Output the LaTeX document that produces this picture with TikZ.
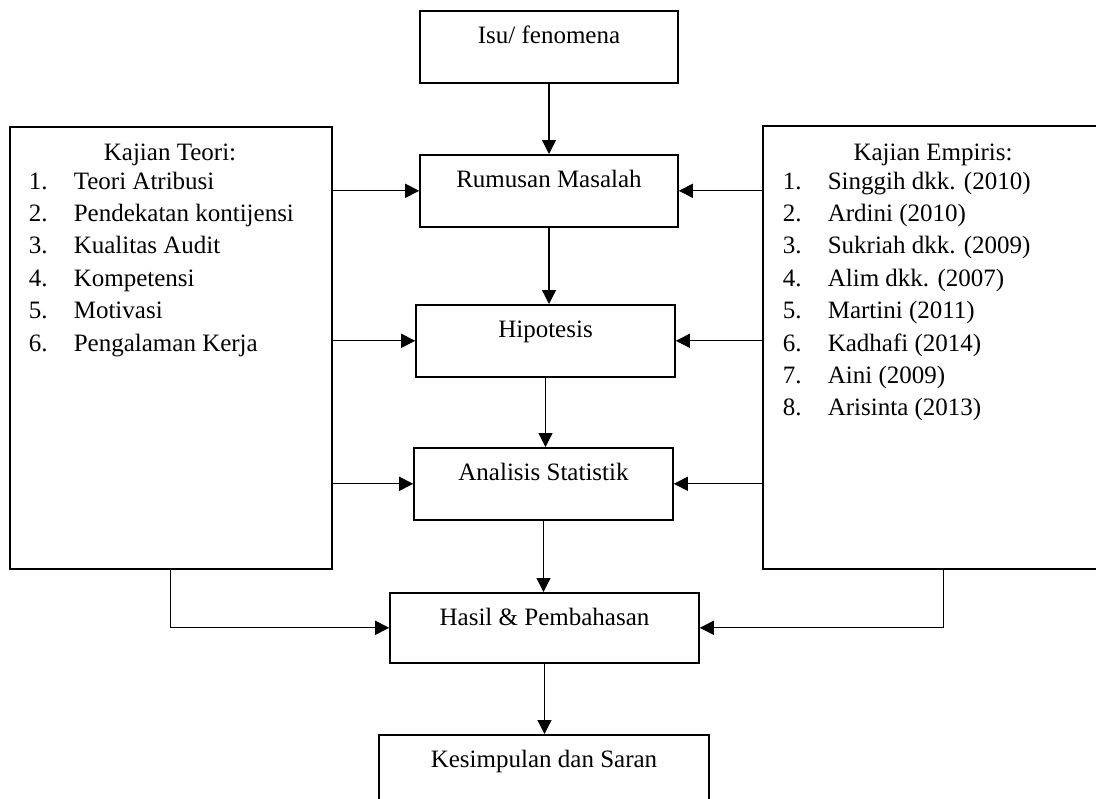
\documentclass[tikz,border=0pt]{standalone}
\usepackage{fontspec}
\setmainfont{Liberation Serif}
\usetikzlibrary{arrows.meta, positioning}
\tikzset{
  every picture/.style={font=\fontsize{12.5}{15}\selectfont, line width=0.8pt},
  stage/.style={draw, inner sep=0pt, anchor=north, text height=16.5pt, text depth=19.5pt, minimum width=#1},
  panel/.style={draw, inner sep=0pt, anchor=north west, minimum width=#1},
  arrow/.style={-{Triangle[length=7pt, width=7pt]}, line width=0.6pt},
  item/.style={anchor=base west, inner sep=0pt},
}

\begin{document}
\begin{tikzpicture}[x=0.5pt, y=-0.5pt]
  \useasboundingbox (0,0) rectangle (1096,798);
  % alur utama
  \node[stage=129pt] (isu) at (549,10) {Isu/ fenomena};
  \node[stage=129pt] (rumusan) at (549,154) {Rumusan Masalah};
  \node[stage=129.5pt] (hipotesis) at (545.5,304) {Hipotesis};
  \node[stage=129.5pt] (analisis) at (543.5,447) {Analisis Statistik};
  \node[stage=154.5pt, text depth=18.5pt] (hasil) at (544.5,592) {Hasil \& Pembahasan};
  \node[stage=165pt, text depth=30pt] (kesimpulan) at (544,734) {Kesimpulan dan Saran};
  % kajian teori
  \node[panel=161pt, minimum height=221pt] (teori) at (9,126) {};
  \node[anchor=base] (judulteori) at (170,160) {Kajian Teori:};
  \foreach \t [count=\i] in {Teori Atribusi, Pendekatan kontijensi, Kualitas Audit, Kompetensi, Motivasi, Pengalaman Kerja} {
    \node[item] (tn\i) at (28,{189+32.4*(\i-1)}) {\i.};
    \node[item] (tt\i) at (73,{189+32.4*(\i-1)}) {\t};
  }
  % kajian empiris
  \node[panel=181pt, minimum height=221.5pt] (empiris) at (762,125) {};
  \node[anchor=base] (judulempiris) at (933,160) {Kajian Empiris:};
  \foreach \t [count=\i] in {Singgih dkk. (2010), Ardini (2010), Sukriah dkk. (2009), Alim dkk. (2007), Martini (2011), Kadhafi (2014), Aini (2009), Arisinta (2013)} {
    \node[item] (en\i) at (782,{189+32.4*(\i-1)}) {\i.};
    \node[item] (et\i) at (827,{189+32.4*(\i-1)}) {\t};
  }
  % panah
  \draw[arrow] (isu) -- (rumusan);
  \draw[arrow] (rumusan.south) -- (rumusan.south |- hipotesis.north);
  \draw[arrow] (hipotesis.south) -- (hipotesis.south |- analisis.north);
  \draw[arrow] (analisis.south) -- (analisis.south |- hasil.north);
  \draw[arrow] (hasil.south) -- (hasil.south |- kesimpulan.north);
  \foreach \n in {rumusan, hipotesis, analisis} {
    \draw[arrow] (teori.east |- \n) -- (\n.west);
    \draw[arrow] (empiris.west |- \n) -- (\n.east);
  }
  \draw[arrow] (teori.south) |- (hasil.west);
  \draw[arrow] (empiris.south) |- (hasil.east);
\end{tikzpicture}
\end{document}
